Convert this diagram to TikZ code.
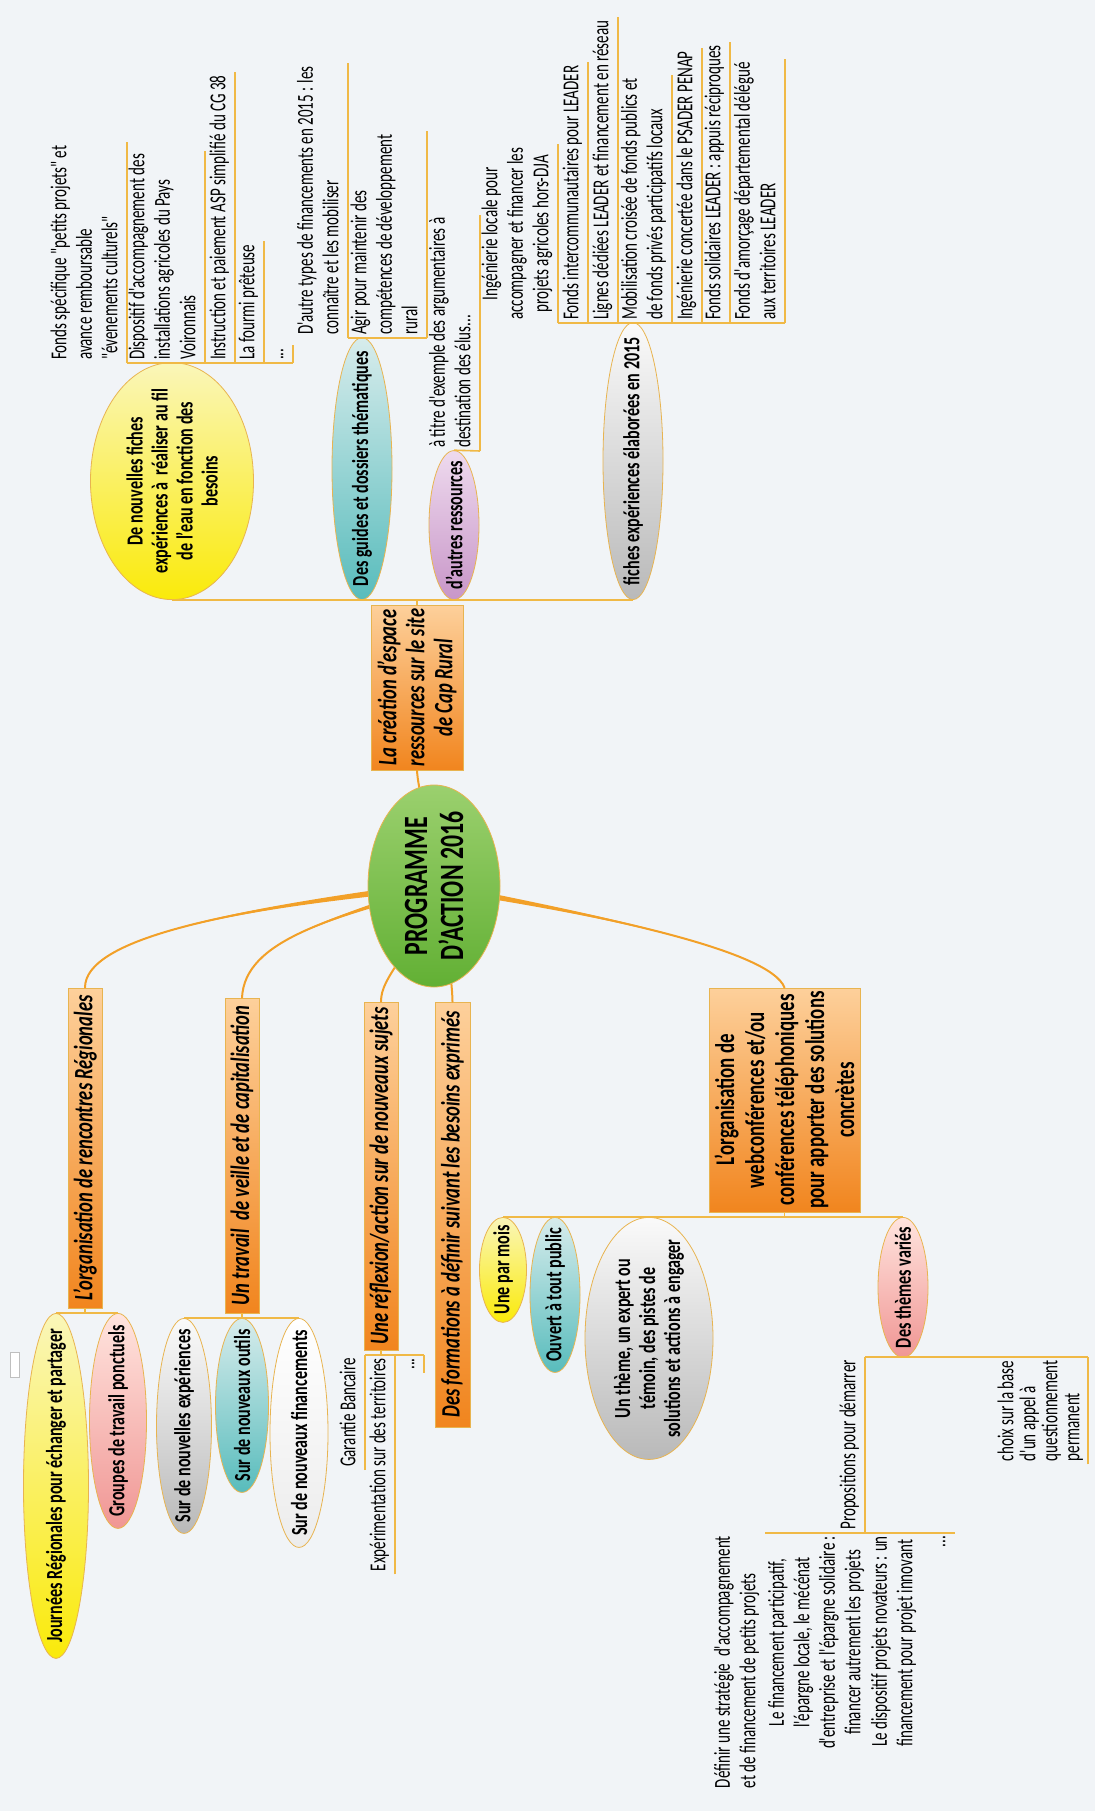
\documentclass[tikz,border=0pt]{standalone}
\usepackage{fontspec}
\setmainfont[FakeStretch=0.7]{Carlito}
\newfontfamily\leaffam[FakeStretch=0.66]{Carlito}
\usetikzlibrary{shapes.geometric}

\definecolor{bgpage}{RGB}{241,244,247}
\definecolor{trunkor}{RGB}{242,160,40}
\definecolor{twigor}{RGB}{240,185,70}
\definecolor{rimor}{RGB}{232,180,80}
\definecolor{boxlight}{RGB}{253,208,155}
\definecolor{boxdark}{RGB}{241,133,30}
\definecolor{greenlight}{RGB}{155,208,110}
\definecolor{greendark}{RGB}{98,176,52}
\definecolor{yellight}{RGB}{250,246,185}
\definecolor{yeldark}{RGB}{250,234,10}
\definecolor{teallight}{RGB}{215,236,236}
\definecolor{tealdark}{RGB}{88,188,188}
\definecolor{lilaclight}{RGB}{238,218,238}
\definecolor{lilacdark}{RGB}{200,150,200}
\definecolor{greylight}{RGB}{250,250,250}
\definecolor{greydark}{RGB}{185,185,185}
\definecolor{pinklight}{RGB}{255,228,222}
\definecolor{pinkdark}{RGB}{240,150,148}
\definecolor{whitedark}{RGB}{236,236,236}

\newcommand{\leafsize}{\leaffam\fontsize{22.8}{25.5}\selectfont}
\newcommand{\bubsize}{\fontsize{23}{25}\selectfont\bfseries}
\newcommand{\boxsize}{\fontsize{26.5}{28}\selectfont\bfseries\itshape}
\newcommand{\confsize}{\fontsize{27}{30}\selectfont\bfseries}
\newcommand{\hubsize}{\fontsize{34}{36}\selectfont\bfseries}
% tapered main branch: shift key, start, control 1, control 2, end
\newcommand{\taper}[5]{%
  \fill[trunkor] ([#1=4pt]#2) .. controls (#3) and (#4) .. (#5) .. controls (#4) and (#3) .. ([#1=-4pt]#2) -- cycle;
  \draw[trunk] (#2) .. controls (#3) and (#4) .. (#5);}

\begin{document}
\begin{tikzpicture}[x=1pt,y=-1pt,
every node/.style={rotate=90},
trunk/.style={draw=trunkor,line width=2pt,line cap=round},
twig/.style={draw=twigor,line width=1.6pt},
hub/.style={ellipse,draw=rimor,line width=0.8pt,top color=greenlight,bottom color=greendark,inner sep=0pt},
hubtext/.style={font=\hubsize,align=center,inner sep=0pt},
bub/.style={ellipse,draw=rimor,line width=0.8pt,inner sep=0pt},
yellowbub/.style={bub,top color=yellight,bottom color=yeldark},
tealbub/.style={bub,top color=teallight,bottom color=tealdark},
lilacbub/.style={bub,top color=lilaclight,bottom color=lilacdark},
greybub/.style={bub,top color=greylight,bottom color=greydark},
pinkbub/.style={bub,top color=pinklight,bottom color=pinkdark},
whitebub/.style={bub,top color=white,bottom color=whitedark},
bubtext/.style={font=\bubsize,align=center,inner sep=0pt},
branch/.style={rectangle,draw=rimor,line width=0.8pt,top color=boxlight,bottom color=boxdark,inner xsep=3pt,inner ysep=2pt,font=\boxsize,align=center},
leaf/.style={font=\leafsize,align=left,inner xsep=3pt,inner ysep=1.75pt,execute at begin node=\strut,execute at end node=\strut}]
\useasboundingbox (0,0) rectangle (1095,1811);
\fill[bgpage] (0,0) rectangle (1095,1811);

\coordinate (hubc) at (434,886);

% main branches
\node[branch,minimum width=165,minimum height=92] (crea) at (417,687.5) {La création d'espace\\ressources sur le site\\de Cap Rural};
\node[branch,minimum width=320,minimum height=34] (rencontres) at (85,1148) {L'organisation de rencontres Régionales};
\node[branch,minimum width=315,minimum height=34] (veille) at (242,1155.5) {Un travail~ de veille et de capitalisation};
\node[branch,minimum width=348,minimum height=34] (reflexion) at (381,1176) {Une réflexion/action sur de nouveaux sujets};
\node[branch,minimum width=425,minimum height=35] (formations) at (452.5,1214.5) {Des formations à définir suivant les besoins exprimés};
\node[branch,font=\confsize,minimum width=224,minimum height=151] (webconf) at (784.5,1100) {L'organisation de\\webconférences et/ou\\conférences téléphoniques\\pour apporter des solutions\\concrètes};

\taper{xshift}{hubc}{428,820}{418,790}{crea.west}
\taper{yshift}{hubc}{220,910}{85,940}{rencontres.east}
\taper{yshift}{hubc}{330,920}{245,940}{veille.east}
\taper{xshift}{hubc}{410,960}{381,975}{reflexion.east}
\taper{xshift}{hubc}{445,940}{452,975}{formations.east}
\taper{yshift}{hubc}{600,915}{770,950}{webconf.east}

% centre
\node[hub,minimum width=202,minimum height=132] (prog) at (hubc) {};
\node[hubtext] at (prog) {PROGRAMME\\D'ACTION 2016};

% espace ressources
\node[yellowbub,minimum width=237,minimum height=163,anchor=west] (fiches) at (172,600) {};
\node[bubtext] at (fiches) {De nouvelles fiches\\expériences à~ réaliser au fil\\de l'eau en fonction des\\besoins};
\node[tealbub,minimum width=262,minimum height=60,anchor=west] (guides) at (362,600) {};
\node[bubtext] at (guides) {Des guides et dossiers thématiques};
\node[lilacbub,minimum width=149,minimum height=50,anchor=west] (autres) at (454,600) {};
\node[bubtext] at (autres) {d'autres ressources};
\node[greybub,minimum width=277,minimum height=60,anchor=west] (elaborees) at (633,600) {};
\node[bubtext] at (elaborees) {fiches expériences élaborées en 2015};
\draw[twig] (crea.east) -- (crea.east |- fiches.west);
\draw[twig] (fiches.west) -- (elaborees.west);

\node[leaf,anchor=south west] (fondsspec) at (127,363) {Fonds spécifique "petits projets" et\\avance remboursable\\"évenements culturels"};
\node[leaf,anchor=south west] (dispositif) at (205,363) {Dispositif d'accompagnement des\\installations agricoles du Pays\\Voironnais};
\node[leaf,anchor=south west] (instruction) at (235,363) {Instruction et paiement ASP simplifié du CG 38};
\node[leaf,anchor=south west] (fourmi) at (264,363) {La fourmi prêteuse};
\node[leaf,anchor=south west] (etcfiches) at (293,363) {...};
\foreach \n in {fondsspec,dispositif,instruction,fourmi,etcfiches}
  \draw[twig] (\n.south west) -- (\n.south east);
\draw[twig] (fondsspec.south west) -- (etcfiches.south west);

\node[leaf,anchor=south west] (dautre) at (348,338) {D'autre types de financements en 2015 : les\\connaître et les mobiliser};
\node[leaf,anchor=south west] (agir) at (427,338) {Agir pour maintenir des\\compétences de développement\\rural};
\foreach \n in {dautre,agir}
  \draw[twig] (\n.south west) -- (\n.south east);
\draw[twig] (dautre.south west) -- (agir.south west);

\node[leaf,anchor=south west] (titre) at (480,451) {à titre d'exemple des argumentaires à\\destination des élus...};
\draw[twig] (titre.south west) -- (titre.south east);
\draw[twig] (autres.east) -- (titre.south west);

\node[leaf,align=center,anchor=south west] (ingenierie) at (558,323) {Ingénierie locale pour\\accompagner et financer les\\projets agricoles hors-DJA};
\node[leaf,anchor=south west] (interco) at (588,323) {Fonds intercommunautaires pour LEADER};
\node[leaf,anchor=south west] (lignes) at (618,323) {Lignes dédiées LEADER et financement en réseau};
\node[leaf,anchor=south west] (mobilisation) at (672,323) {Mobilisation croisée de fonds publics et\\de fonds privés participatifs locaux};
\node[leaf,anchor=south west] (concertee) at (702,323) {Ingénierie concertée dans le PSADER PENAP};
\node[leaf,anchor=south west] (solidaires) at (730,323) {Fonds solidaires LEADER : appuis réciproques};
\node[leaf,anchor=south west] (amorcage) at (785,323) {Fonds d'amorçage départemental délégué\\aux territoires LEADER};
\foreach \n in {ingenierie,interco,lignes,mobilisation,concertee,solidaires,amorcage}
  \draw[twig] (\n.south west) -- (\n.south east);
\draw[twig] (ingenierie.south west) -- (amorcage.south west);

% rencontres regionales
\node[yellowbub,minimum width=345,minimum height=65,anchor=east] (journees) at (56,1313) {};
\node[bubtext] at (journees) {Journées Régionales pour échanger et partager};
\node[pinkbub,minimum width=215,minimum height=57,anchor=east] (groupes) at (118,1313) {};
\node[bubtext] at (groupes) {Groupes de travail ponctuels};
\draw[twig] (rencontres.west) -- (rencontres.west |- journees.east);
\draw[twig] (journees.east) -- (groupes.east);
\node[draw=black!25,fill=white,minimum width=25,minimum height=9,inner sep=0pt] (flottant) at (15,1365) {};

% veille
\node[greybub,minimum width=215,minimum height=55,anchor=east] (experiences) at (184,1318) {};
\node[bubtext] at (experiences) {Sur de nouvelles expériences};
\node[tealbub,minimum width=174,minimum height=53,anchor=east] (outils) at (242,1318) {};
\node[bubtext] at (outils) {Sur de nouveaux outils};
\node[whitebub,minimum width=229,minimum height=58,anchor=east] (financements) at (299,1318) {};
\node[bubtext] at (financements) {Sur de nouveaux financements};
\draw[twig] (veille.west) -- (veille.west |- experiences.east);
\draw[twig] (experiences.east) -- (financements.east);

% reflexion
\node[leaf,anchor=south east] (garantie) at (365,1355) {Garantie Bancaire};
\node[leaf,anchor=south east] (territoires) at (395,1355) {Expérimentation sur des territoires};
\node[leaf,anchor=south east] (etcsujets) at (424,1355) {...};
\foreach \n in {garantie,territoires,etcsujets}
  \draw[twig] (\n.south west) -- (\n.south east);
\draw[twig] (reflexion.west) -- (reflexion.west |- garantie.south east);
\draw[twig] (garantie.south east) -- (etcsujets.south east);

% webconferences
\node[yellowbub,minimum width=105,minimum height=47,anchor=east] (parmois) at (503,1217) {};
\node[bubtext] at (parmois) {Une par mois};
\node[tealbub,minimum width=155,minimum height=50,anchor=east] (public) at (555,1217) {};
\node[bubtext] at (public) {Ouvert à tout public};
\node[greybub,minimum width=242,minimum height=128,anchor=east] (theme) at (649,1217) {};
\node[bubtext] at (theme) {Un thème, un expert ou\\témoin, des pistes de\\solutions et actions à engager};
\node[pinkbub,minimum width=140,minimum height=50,anchor=east] (varies) at (903,1217) {};
\node[bubtext] at (varies) {Des thèmes variés};
\draw[twig] (webconf.west) -- (webconf.west |- parmois.east);
\draw[twig] (parmois.east) -- (varies.east);

\node[leaf,anchor=south east] (propositions) at (865,1357) {Propositions pour démarrer};
\node[leaf,font=\leaffam\fontsize{22.8}{22}\selectfont,anchor=south east] (choix) at (1088,1357) {choix sur la base\\d'un appel à\\questionnement\\permanent};
\foreach \n in {propositions,choix}
  \draw[twig] (\n.south west) -- (\n.south east);
\draw[twig] (propositions.south east) -- (choix.south east);

\node[leaf,anchor=south east] (definir) at (765,0 |- propositions.south west) {Définir une stratégie~ d'accompagnement\\et de financement de petits projets};
\node[leaf,align=center,anchor=south east] (participatif) at (870,0 |- propositions.south west) {Le financement participatif,\\l'épargne locale, le mécénat\\d'entreprise et l'épargne solidaire :\\financer autrement les projets};
\node[leaf,anchor=south east] (novateurs) at (922,0 |- propositions.south west) {Le dispositif projets novateurs : un\\financement pour projet innovant};
\node[leaf,anchor=south east] (etcprop) at (955,0 |- propositions.south west) {...};
\draw[twig] (definir.south east) -- (etcprop.south east);
\end{tikzpicture}
\end{document}
